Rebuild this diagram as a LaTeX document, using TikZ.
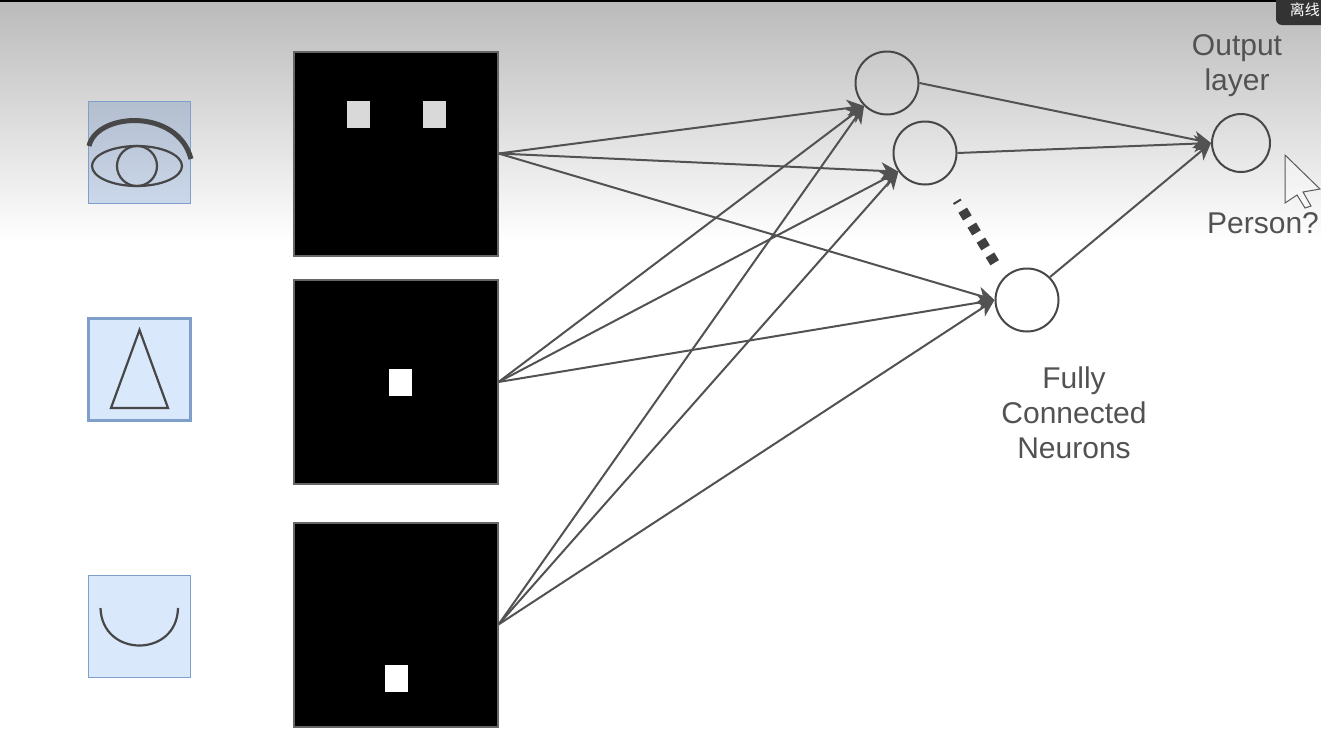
\documentclass[tikz,border=0pt]{standalone}
\usepackage{fontspec}
\setmainfont{Liberation Sans}
\newfontfamily\cjk{Noto Sans CJK SC}
\usetikzlibrary{positioning,arrows.meta}

\begin{document}
\begin{tikzpicture}[
  x=1pt, y=-1pt,
  font=\fontsize{30}{35}\selectfont,
  imagebox/.style={draw=black!60, line width=2pt, fill=black, minimum size=204pt, inner sep=0pt},
  iconbox/.style={draw=iconline, line width=1.2pt, fill=iconblue, minimum size=102pt, inner sep=0pt},
  neuron/.style={circle, draw=black!72, line width=2pt, minimum size=63pt, inner sep=0pt},
  pixel/.style={fill=white, minimum width=23pt, minimum height=27pt, inner sep=0pt},
  label/.style={text=black!68, align=center, inner sep=0pt},
  edge/.style={draw=black!68, line width=2pt},
  arrowedge/.style={edge, -{Stealth[length=17pt,width=17pt,inset=5pt]}},
  sketch/.style={draw=black!72, line width=2.2pt}
]
\definecolor{iconblue}{HTML}{DAE8FC}
\definecolor{iconline}{HTML}{7F9FCB}
\clip (0,0) rectangle (1321,739);
% backdrop
\shade[top color=black!27, bottom color=white] (0,0) rectangle (1321,242);
\fill[black] (0,0) rectangle (1321,2);
\node[fill=black!80, rounded corners=6pt, minimum width=60pt, minimum height=50pt, inner sep=0pt] (tag) at (1306,0) {};
\node[anchor=east, text=white, font=\cjk\fontsize{15}{15}\selectfont, inner sep=0pt] (tagtext) at (1320,10) {离线};

% icons
\node[iconbox, top color=iconblue!82!black, bottom color=iconblue!93!black] (eye) at (139.5,152.5) {};
\node[iconbox, line width=2.4pt] (nose) at (139.5,369.5) {};
\node[iconbox] (mouth) at (139.5,626.5) {};
\draw[sketch] (137,166) ellipse [x radius=45, y radius=20];
\draw[sketch] (137,166) circle [radius=20];
\draw[sketch, line width=5pt] (89,146) .. controls (97,112) and (178,108) .. (191,159);
\draw[sketch] (139.5,330) -- (111,408) -- (168,408) -- cycle;
\draw[sketch] (100.5,608) .. controls (102,658) and (177,658) .. (178,608);

% feature maps
\node[imagebox] (mapa) at (395.5,153.5) {};
\node[imagebox] (mapb) at (395.5,382) {};
\node[imagebox] (mapc) at (395.5,624.5) {};
\node[pixel, fill=black!15] (pixa) at (358,114.5) {};
\node[pixel, fill=black!15] (pixb) at (434.5,114.5) {};
\node[pixel] (pixc) at (400.5,382.5) {};
\node[pixel] (pixd) at (396.5,678) {};

% neurons
\node[neuron] (fca) at (887,83) {};
\node[neuron] (fcb) at (925,153) {};
\node[neuron] (fcc) at (1027,300) {};
\node[neuron, minimum size=58pt] (output) at (1241,143) {};

\draw[arrowedge] (mapa.east) -- (fca.225);
\draw[arrowedge] (mapa.east) -- (fcb.215);
\draw[arrowedge] (mapa.east) -- (fcc.west);
\draw[arrowedge] (mapb.east) -- (fca.225);
\draw[arrowedge] (mapb.east) -- (fcb.215);
\draw[arrowedge] (mapb.east) -- (fcc.west);
\draw[arrowedge] (mapc.east) -- (fca.225);
\draw[arrowedge] (mapc.east) -- (fcb.215);
\draw[arrowedge] (mapc.east) -- (fcc.west);
\draw[arrowedge] (fca.east) -- (output.west);
\draw[arrowedge] (fcb.east) -- (output.west);
\draw[arrowedge] (fcc.45) -- (output.west);

% dots between neurons
\coordinate (dotsa) at (962.7,210.2);
\coordinate (dotsb) at (995.3,263.8);
\draw[draw=black!75, line width=10pt, dash pattern=on 9pt off 8.5pt] (dotsa) -- (dotsb);
\draw[draw=black!75, line width=2pt] (953.5,204) -- (961,199.5);

% labels
\node[label] (outlabel) at (1237,65.5) {Output\\layer};
\node[label] (personlabel) at (1263,223) {Person?};
\node[label] (fclabel) at (1074,413) {Fully\\Connected\\Neurons};

% pointer
\draw[draw=black!65, line width=1pt, fill=white, fill opacity=0.35]
  (1285,155) -- (1320,189) -- (1303,192) -- (1311,206) -- (1305,208) -- (1297,195) -- (1285,203) -- cycle;
\end{tikzpicture}
\end{document}
